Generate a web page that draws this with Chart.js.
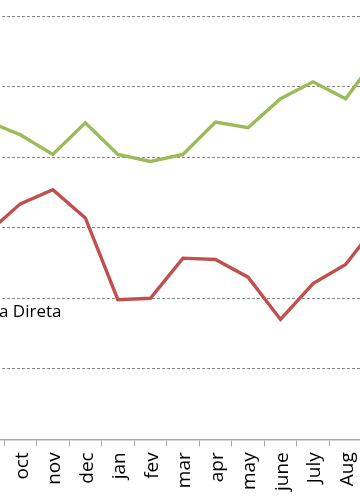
<!DOCTYPE html>
<html>
<head>
<meta charset="utf-8">
<script src="https://cdn.jsdelivr.net/npm/chart.js@4"></script>
<style>
  html, body { margin: 0; padding: 0; width: 360px; height: 504px; overflow: hidden; background: #fff; }
  #wrap { position: absolute; left: -60px; top: 0; width: 480px; height: 504px; }
</style>
</head>
<body>
<div id="wrap"><canvas id="c" width="480" height="504"></canvas></div>
<script>
const months = ['sep', 'oct', 'nov', 'dec', 'jan', 'fev', 'mar', 'apr', 'may', 'june', 'July', 'Aug', 'sep'];
const greenSeries = [45.1, 43.2, 40.4, 44.9, 40.4, 39.4, 40.4, 45.0, 44.2, 48.3, 50.7, 48.3, 54.5];
const redSeries = [29.3, 33.4, 35.4, 31.4, 19.8, 20.0, 25.7, 25.5, 23.0, 17.0, 22.1, 24.8, 30.7];
const redLabel = 'Venda Direta';
const greenLabel = 'Total';

const labelPlugin = {
  id: 'seriesLabel',
  afterDraw(chart) {
    const ctx = chart.ctx;
    ctx.save();
    ctx.font = '17px "Open Sans"';
    ctx.fillStyle = '#000';
    ctx.textAlign = 'right';
    ctx.textBaseline = 'alphabetic';
    ctx.fillText(redLabel, 121.5, 317);
    ctx.restore();
  }
};

new Chart(document.getElementById('c'), {
  type: 'line',
  data: {
    labels: months,
    datasets: [
      { label: greenLabel, data: greenSeries, borderColor: '#9BBB59', borderWidth: 3.4, pointRadius: 0, tension: 0, fill: false },
      { label: redLabel, data: redSeries, borderColor: '#C0504D', borderWidth: 3.4, pointRadius: 0, tension: 0, fill: false }
    ]
  },
  options: {
    responsive: false,
    animation: false,
    layout: { padding: { left: 31.5, right: 25.6, top: 16.3, bottom: 0 } },
    plugins: { legend: { display: false }, tooltip: { enabled: false } },
    scales: {
      x: {
        offset: true,
        afterFit(scale) { scale.height = 64.7; },
        grid: { display: true, drawOnChartArea: false, drawTicks: true, tickLength: 7, color: '#aaa', offset: true },
        border: { display: true, color: '#aaa', width: 1.5 },
        ticks: { minRotation: 90, maxRotation: 90, autoSkip: false, padding: 6, labelOffset: 2, color: '#000', font: { family: '"Open Sans"', size: 19 } }
      },
      y: {
        min: 0, max: 60,
        afterFit(scale) { scale.width = 0; },
        ticks: { display: false, stepSize: 10 },
        grid: { drawTicks: false, color: '#888', lineWidth: 1 },
        border: { display: false, dash: [3, 2] }
      }
    }
  },
  plugins: [labelPlugin]
});
</script>
</body>
</html>
